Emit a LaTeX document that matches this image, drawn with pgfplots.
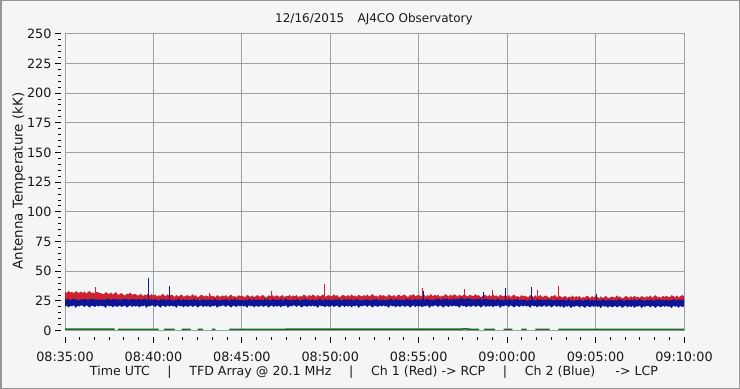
\documentclass[border=0pt]{standalone}
\usepackage{fontspec}
\setmainfont{DejaVu Sans}
\usepackage{pgfplots}
\usepackage{pgfplotstable}
\pgfplotsset{compat=1.18}
\usepgfplotslibrary{fillbetween}
\definecolor{redc}{RGB}{206,34,48}
\definecolor{bluec}{RGB}{12,22,150}
\definecolor{greenc}{RGB}{25,105,35}
\definecolor{gridc}{RGB}{160,160,160}
\definecolor{bgc}{RGB}{244,245,247}
\definecolor{framec}{RGB}{150,150,150}
\definecolor{txtc}{RGB}{25,25,25}

% one row every 0.1 min from 08:35:00; ru = top of Ch1 trace, bu/bl = top/bottom of Ch2 trace
\pgfplotstableread{
ru bu bl
33.1 26.7 20.2
31.7 25.9 21.2
33.6 27.0 19.6
32.1 25.6 21.0
32.7 26.4 20.5
31.4 27.1 21.5
33.3 25.8 19.2
32.4 26.3 20.9
31.8 25.5 20.4
33.0 26.6 21.3
31.7 26.0 21.1
33.1 26.8 19.9
31.2 26.3 21.4
32.5 25.4 20.6
33.4 26.9 19.5
31.6 26.1 21.2
32.2 27.2 20.7
31.0 25.7 20.0
32.9 26.5 21.4
31.9 25.8 20.3
31.9 26.6 21.3
31.1 25.5 20.4
30.6 26.3 20.9
32.5 25.8 19.2
31.6 27.1 21.5
30.8 26.4 20.5
32.2 25.6 21.0
30.4 27.0 19.6
31.7 25.9 21.2
32.4 26.7 20.2
30.0 25.8 20.3
31.0 26.5 21.4
31.6 25.7 20.0
30.3 27.2 20.7
29.5 26.1 21.2
31.3 26.9 19.5
30.7 25.4 20.6
32.1 26.3 21.4
30.2 26.8 19.9
30.8 26.0 21.1
30.7 26.7 20.2
29.5 25.9 21.2
30.1 27.0 19.6
31.0 25.6 21.0
29.1 26.4 20.5
30.4 27.1 21.5
29.8 25.8 19.2
31.3 26.3 20.9
29.4 25.5 20.4
30.8 26.6 21.3
29.5 25.7 21.1
30.5 26.5 19.9
28.6 26.0 21.4
29.8 25.1 20.6
29.2 26.6 19.5
31.0 25.8 21.2
30.1 26.9 20.7
28.8 25.4 20.0
30.7 26.2 21.4
29.3 25.5 20.3
30.4 26.3 21.3
29.7 25.2 20.4
28.4 26.0 20.9
30.2 25.5 19.2
28.8 26.8 21.5
29.6 26.1 20.5
30.5 25.3 21.0
28.6 26.7 19.6
29.1 25.6 21.2
29.9 26.4 20.2
29.4 25.5 20.3
28.8 26.2 21.4
30.7 25.4 20.0
29.3 26.9 20.7
29.9 25.8 21.2
28.1 26.6 19.5
28.9 25.1 20.6
30.2 26.0 21.4
29.6 26.5 19.9
28.6 25.7 21.1
29.8 26.4 20.2
28.4 25.6 21.2
30.3 26.7 19.6
28.8 25.3 21.0
29.4 26.1 20.5
28.1 26.8 21.5
30.0 25.5 19.2
29.1 26.0 20.9
28.5 25.2 20.4
29.7 26.3 21.3
28.7 25.7 21.1
30.1 26.5 19.9
28.2 26.0 21.4
29.5 25.1 20.6
30.4 26.6 19.5
28.6 25.8 21.2
29.2 26.9 20.7
28.0 25.4 20.0
29.9 26.2 21.4
28.9 25.5 20.3
29.5 26.3 21.3
28.7 25.2 20.4
28.2 26.0 20.9
30.1 25.5 19.2
29.2 26.8 21.5
28.4 26.1 20.5
29.8 25.3 21.0
28.0 26.7 19.6
29.3 25.6 21.2
30.0 26.4 20.2
28.4 25.5 20.3
29.4 26.2 21.4
30.0 25.4 20.0
28.7 26.9 20.7
27.9 25.8 21.2
29.7 26.6 19.5
29.1 25.1 20.6
30.5 26.0 21.4
28.6 26.5 19.9
29.2 25.7 21.1
29.7 26.4 20.2
28.5 25.6 21.2
29.1 26.7 19.6
30.0 25.3 21.0
28.1 26.1 20.5
29.4 26.8 21.5
28.8 25.5 19.2
30.3 26.0 20.9
28.4 25.2 20.4
29.8 26.3 21.3
29.0 25.7 21.1
30.0 26.5 19.9
28.1 26.0 21.4
29.3 25.1 20.6
28.7 26.6 19.5
30.5 25.8 21.2
29.6 26.9 20.7
28.3 25.4 20.0
30.2 26.2 21.4
28.8 25.5 20.3
30.4 26.3 21.3
29.7 25.2 20.4
28.4 26.0 20.9
30.2 25.5 19.2
28.8 26.8 21.5
29.6 26.1 20.5
30.5 25.3 21.0
28.6 26.7 19.6
29.1 25.6 21.2
29.9 26.4 20.2
29.4 25.5 20.3
28.8 26.2 21.4
30.7 25.4 20.0
29.3 26.9 20.7
29.9 25.8 21.2
28.1 26.6 19.5
28.9 25.1 20.6
30.2 26.0 21.4
29.6 26.5 19.9
28.6 25.7 21.1
30.1 26.4 20.2
28.7 25.6 21.2
30.6 26.7 19.6
29.1 25.3 21.0
29.7 26.1 20.5
28.4 26.8 21.5
30.3 25.5 19.2
29.4 26.0 20.9
28.8 25.2 20.4
30.0 26.3 21.3
29.1 25.7 21.1
30.5 26.5 19.9
28.6 26.0 21.4
29.9 25.1 20.6
30.8 26.6 19.5
29.0 25.8 21.2
29.6 26.9 20.7
28.4 25.4 20.0
30.3 26.2 21.4
29.3 25.5 20.3
29.9 26.4 21.3
29.1 25.3 20.4
28.6 26.1 20.9
30.5 25.6 19.2
29.6 26.9 21.5
28.8 26.2 20.5
30.2 25.4 21.0
28.4 26.8 19.6
29.7 25.7 21.2
30.4 26.5 20.2
28.8 25.6 20.3
29.8 26.3 21.4
30.4 25.5 20.0
29.1 27.0 20.7
28.3 25.9 21.2
30.1 26.7 19.5
29.5 25.2 20.6
30.9 26.1 21.4
29.0 26.6 19.9
29.6 25.8 21.1
30.2 26.6 20.2
29.0 25.8 21.2
29.6 26.9 19.6
30.5 25.5 21.0
28.6 26.3 20.5
29.9 27.0 21.5
29.3 25.7 19.2
30.8 26.2 20.9
28.9 25.4 20.4
30.3 26.5 21.3
29.3 26.1 21.1
30.3 26.9 19.9
28.4 26.4 21.4
29.6 25.5 20.6
29.0 27.0 19.5
30.8 26.2 21.2
29.9 27.3 20.7
28.6 25.8 20.0
30.5 26.6 21.4
29.1 25.9 20.3
30.6 27.1 21.3
29.9 26.0 20.4
28.6 26.8 20.9
30.4 26.3 19.2
29.0 27.6 21.5
29.8 26.9 20.5
30.7 26.1 21.0
28.8 27.5 19.6
29.3 26.4 21.2
30.1 27.2 20.2
29.5 25.9 20.3
28.9 26.6 21.4
30.8 25.8 20.0
29.4 27.3 20.7
30.0 26.2 21.2
28.2 27.0 19.5
29.0 25.5 20.6
30.3 26.4 21.4
29.7 26.9 19.9
28.7 26.1 21.1
30.1 26.5 20.2
28.7 25.7 21.2
30.6 26.8 19.6
29.1 25.4 21.0
29.7 26.2 20.5
28.4 26.9 21.5
30.3 25.6 19.2
29.4 26.1 20.9
28.8 25.3 20.4
30.0 26.4 21.3
28.7 25.8 21.1
30.1 26.6 19.9
28.2 26.1 21.4
29.5 25.2 20.6
30.4 26.7 19.5
28.6 25.9 21.2
29.2 27.0 20.7
28.0 25.5 20.0
29.9 26.3 21.4
28.9 25.6 20.3
29.5 26.3 21.3
28.7 25.2 20.4
28.2 26.0 20.9
30.1 25.5 19.2
29.2 26.8 21.5
28.4 26.1 20.5
29.8 25.3 21.0
28.0 26.7 19.6
29.3 25.6 21.2
30.0 26.4 20.2
28.1 25.4 20.3
29.1 26.1 21.4
29.7 25.3 20.0
28.4 26.8 20.7
27.6 25.7 21.2
29.4 26.5 19.5
28.8 25.0 20.6
30.2 25.9 21.4
28.3 26.4 19.9
28.9 25.6 21.1
29.1 26.2 19.9
27.9 25.4 20.9
28.5 26.5 19.3
29.4 25.1 20.7
27.5 25.9 20.2
28.8 26.6 21.2
28.2 25.3 18.9
29.7 25.8 20.6
27.8 25.0 20.1
29.2 26.1 21.0
28.1 25.4 20.8
29.1 26.2 19.6
27.2 25.7 21.1
28.4 24.8 20.3
27.8 26.3 19.2
29.6 25.5 20.9
28.7 26.6 20.4
27.4 25.1 19.7
29.3 25.9 21.1
27.9 25.2 20.0
29.2 26.0 21.0
28.5 24.9 20.1
27.2 25.7 20.6
29.0 25.2 18.9
27.6 26.5 21.2
28.4 25.8 20.2
29.3 25.0 20.7
27.4 26.4 19.3
27.9 25.3 20.9
28.7 26.1 19.9
28.4 25.2 20.0
27.8 25.9 21.1
29.7 25.1 19.7
28.3 26.6 20.4
28.9 25.5 20.9
27.1 26.3 19.2
27.9 24.8 20.3
29.2 25.7 21.1
28.6 26.2 19.6
27.6 25.4 20.8
29.1 26.2 19.9
27.7 25.4 20.9
29.6 26.5 19.3
28.1 25.1 20.7
28.7 25.9 20.2
27.4 26.6 21.2
29.3 25.3 18.9
28.4 25.8 20.6
27.8 25.0 20.1
29.0 26.1 21.0
28.2 25.5 20.8
29.6 26.3 19.6
27.7 25.8 21.1
29.0 24.9 20.3
29.9 26.4 19.2
28.1 25.6 20.9
28.7 26.7 20.4
27.5 25.2 19.7
29.4 26.0 21.1
28.4 25.3 20.0
29.4 26.2 21.0
28.6 25.1 20.1
28.1 25.9 20.6
29.9 25.4 18.9
29.1 26.7 21.2
28.3 26.0 20.2
29.7 25.2 20.7
27.9 26.6 19.3
29.2 25.5 20.9
29.9 26.3 19.9
29.0 26.0 20.5
}\band

\begin{document}
\begin{tikzpicture}
\pgfplotsset{set layers}
\begin{pgfonlayer}{axis background}
\fill[bgc] (0,0) rectangle (740bp,389bp);
\end{pgfonlayer}
\draw[framec, line width=1.5bp] (0.75bp,0.75bp) rectangle (739.25bp,388.25bp);
\begin{axis}[
  at={(65bp,58.3bp)}, anchor=south west,
  width=619bp, height=297bp, scale only axis,
  xmin=0, xmax=35, ymin=0, ymax=250,
  xtick={0,5,10,15,20,25,30,35},
  xticklabels={08:35:00,08:40:00,08:45:00,08:50:00,08:55:00,09:00:00,09:05:00,09:10:00},
  ytick={0,25,...,250},
  minor x tick num=5, minor y tick num=4,
  xtick pos=left, ytick pos=left,
  tick align=outside,
  major tick length=6bp, minor tick length=3bp,
  major x tick style={black, line width=1bp, yshift=-6bp},
  minor x tick style={black, line width=1bp, yshift=-6bp},
  major y tick style={black, line width=1bp, xshift=-4bp},
  minor y tick style={black, line width=1bp, xshift=-4bp},
  grid=major,
  major grid style={gridc, line width=1bp},
  axis line style={gridc, line width=1bp},
  tick label style={font=\fontsize{12.8bp}{15bp}\selectfont, text=txtc},
  xticklabel style={yshift=-12bp},
  yticklabel style={xshift=-4bp},
  /pgf/number format/assume math mode=true,
  unbounded coords=jump,
]
\addplot[draw=none, name path=ru] table[x expr=\coordindex/10, y=ru]{\band};
\addplot[draw=none, name path=rl] coordinates {(0,24) (35,24)};
\addplot[fill=redc] fill between[of=ru and rl];
\addplot[draw=none, name path=bu] table[x expr=\coordindex/10, y=bu]{\band};
\addplot[draw=none, name path=bl] table[x expr=\coordindex/10, y=bl]{\band};
\addplot[fill=bluec] fill between[of=bu and bl];
% isolated spikes
\addplot[redc, line width=1bp] coordinates {
(1.75,27) (1.75,37.0) (1.75,nan)
(8.15,28) (8.15,31.5) (8.15,nan)
(11.65,28) (11.65,33.7) (11.65,nan)
(14.7,28) (14.7,39.3) (14.7,nan)
(20.2,28) (20.2,35.7) (20.2,nan)
(22.6,28) (22.6,35.0) (22.6,nan)
(24.2,28) (24.2,34.0) (24.2,nan)
(26.7,28) (26.7,34.3) (26.7,nan)
(27.9,28) (27.9,37.9)};
\addplot[bluec, line width=1bp] coordinates {
(4.72,25) (4.72,44.6) (4.72,nan)
(5.92,25) (5.92,37.9) (5.92,nan)
(20.25,25) (20.25,33.0) (20.25,nan)
(23.66,25) (23.66,32.8) (23.66,nan)
(24.9,25) (24.9,35.7) (24.9,nan)
(26.36,25) (26.36,37.0) (26.36,nan)
(30.03,25) (30.03,30.6)};
\addplot[greenc, line width=1.6bp] coordinates {
(0,1.3) (2.8,1.3) (2.9,nan) (3.0,1.1) (5.3,1.1) (5.35,nan)
(5.6,1.1) (6.2,1.1) (6.25,nan) (6.6,1.1) (7.1,1.1) (7.15,nan)
(7.5,1.1) (7.8,1.1) (7.85,nan) (8.3,1.1) (8.5,1.1) (8.55,nan)
(9.3,1.1) (12.0,1.1) (12.6,1.2) (22.4,1.2) (22.6,1.7) (22.8,1.2) (23.4,1.1) (23.45,nan)
(23.7,1.1) (24.3,1.1) (24.35,nan) (24.8,1.1) (25.3,1.1) (25.35,nan)
(25.8,1.1) (26.1,1.1) (26.15,nan) (26.6,1.1) (27.4,1.1) (27.45,nan)
(27.9,1.1) (35,1.1)};
\end{axis}
\node[text=txtc, font=\fontsize{12bp}{14bp}\selectfont] at (374bp,370bp) {12/16/2015\hspace{1.1em}AJ4CO Observatory};
\node[text=txtc, rotate=90, font=\fontsize{13.4bp}{16bp}\selectfont] at (19bp,208bp) {Antenna Temperature (kK)};
\node[text=txtc, font=\fontsize{12.6bp}{15bp}\selectfont] at (374bp,17bp) {Time UTC\hspace{1.4em}|\hspace{1.4em}TFD Array @ 20.1 MHz\hspace{1.4em}|\hspace{1.4em}Ch 1 (Red) -> RCP\hspace{1.4em}|\hspace{1.4em}Ch 2 (Blue)\hspace{1.6em}-> LCP};
\end{tikzpicture}
\end{document}
